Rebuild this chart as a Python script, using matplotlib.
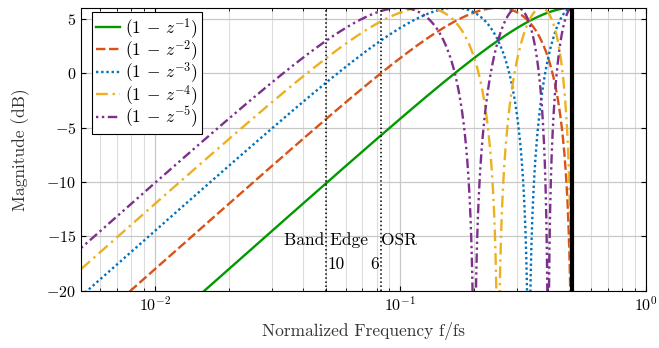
import numpy as np
import matplotlib
matplotlib.use("Agg")
import matplotlib.pyplot as plt

plt.rcParams['font.family'] = 'serif'
plt.rcParams['font.serif'] = ['cmr10']
plt.rcParams['mathtext.fontset'] = 'cm'
plt.rcParams['axes.formatter.use_mathtext'] = True
plt.rcParams['font.size'] = 12

# filter orders of the differencing filters (1 - z^-k)
orders = [1, 2, 3, 4, 5]
labels = [r'$(1\,-\,z^{-%d})$' % k for k in orders]
colors = ['#009900', '#D95319', '#0072BD', '#EDB120', '#7E2F8E']
styles = ['-', (0, (4, 1.5)), (0, (1, 1.2)), (0, (5, 2, 1, 2)), (0, (1, 1.5, 1, 1.5, 4, 1.5))]

f_start = 0.005
f_nyq = 0.5
band_edge = 1 / 10 / 2   # OSR 10
osr_edge = 1 / 6 / 2     # OSR 6

f = np.logspace(np.log10(f_start), np.log10(f_nyq), 6000)

fig = plt.figure(figsize=(6.59, 3.48), dpi=100)
ax = fig.add_axes([0.123, 0.165, 0.857, 0.812])

for k, lab, c, ls in zip(orders, labels, colors, styles):
    H = np.abs(1 - np.exp(-2j * np.pi * f * k))
    mag = 20 * np.log10(np.maximum(H, 1e-4))
    ax.plot(f, mag, color=c, linestyle=ls, lw=1.7, label=lab)

ax.axvline(f_nyq, color='k', lw=3)
ax.axvline(band_edge, color='k', lw=1.1, ls=':')
ax.axvline(osr_edge, color='k', lw=1.1, ls=':')

ax.text(band_edge, -15.4, 'Band Edge', ha='center', va='center', fontsize=12.5)
ax.text(osr_edge, -15.4, 'OSR', ha='left', va='center', fontsize=12.5)
ax.text(band_edge * 1.01, -17.6, '10', ha='left', va='center', fontsize=12.5)
ax.text(osr_edge * 0.985, -17.6, '6', ha='right', va='center', fontsize=12.5)

ax.set_xscale('log')
ax.set_xlim(f_start, 1)
ax.set_ylim(-20, 6)
ax.set_yticks([-20, -15, -10, -5, 0, 5])
ax.grid(True, which='major', color='#c8c8c8', lw=0.9)
ax.grid(True, which='minor', axis='x', color='#dcdcdc', lw=0.8)
ax.tick_params(which='both', direction='in', top=True, right=True, labelsize=11.5)
ax.set_axisbelow(True)

ax.set_xlabel('Normalized Frequency f/fs', color='#333333', fontsize=12.5, labelpad=6)
ax.set_ylabel('Magnitude (dB)', color='#333333', fontsize=12.5, labelpad=12)

leg = ax.legend(loc='upper left', bbox_to_anchor=(0.02, 0.985), fancybox=False,
                edgecolor='k', framealpha=1, fontsize=12.5, handlelength=1.4,
                handletextpad=0.3, borderaxespad=0, borderpad=0.2,
                labelspacing=-0.15)
leg.get_frame().set_linewidth(0.8)

fig.savefig('out.png', dpi=100)
